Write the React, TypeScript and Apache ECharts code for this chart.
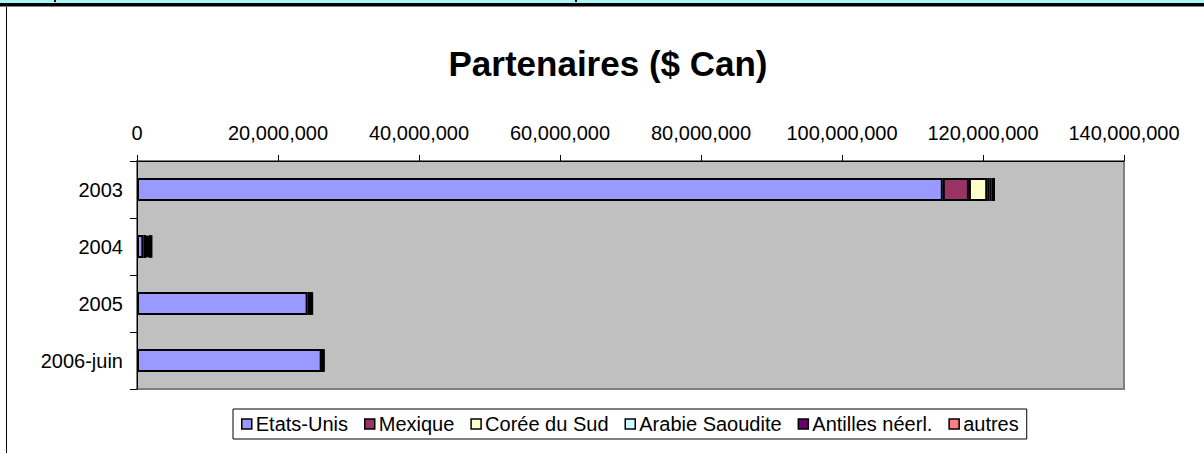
import React, { useEffect, useRef } from "react";
import * as echarts from "echarts";

const categories = ["2003", "2004", "2005", "2006-juin"];
const seriesNames = ["Etats-Unis", "Mexique", "Corée du Sud", "Arabie Saoudite", "Antilles néerl.", "autres"];
const etatsUnis = [114.3e6, 0.9e6, 24.2e6, 26.2e6];
const mexique = [3.7e6, 0.4e6, 0.3e6, 0.1e6];
const coreeDuSud = [2.6e6, 0.2e6, 0.1e6, 0.05e6];
const arabieSaoudite = [0.3e6, 0.2e6, 0.1e6, 0.05e6];
const antilles = [0.3e6, 0.3e6, 0.1e6, 0.05e6];
const autres = [0.5e6, 0.1e6, 0.1e6, 0.1e6];
const seriesValues = [etatsUnis, mexique, coreeDuSud, arabieSaoudite, antilles, autres];
const seriesColors = ["#9999FF", "#993366", "#FFFFCC", "#CCFFFF", "#660066", "#FF8080"];
const tickMin = 0;
const tickMax = 140e6;
const tickStep = 20e6;

const FONT = "Liberation Sans, Arial, sans-serif";

export default function App() {
  const ref = useRef<HTMLDivElement>(null);
  useEffect(() => {
    document.body.style.margin = "0";
    if (!ref.current) return;
    const chart = echarts.init(ref.current, null, { renderer: "svg" });
    chart.setOption({
      animation: false,
      backgroundColor: "#ffffff",
      title: {
        text: "Partenaires ($ Can)",
        left: 603,
        textAlign: "center",
        top: 41,
        textStyle: { fontFamily: FONT, fontSize: 35, fontWeight: "bold", color: "#000" },
      },
      grid: {
        left: 137,
        top: 161,
        width: 987,
        height: 228,
        show: true,
        backgroundColor: "#c0c0c0",
        borderColor: "#808080",
        borderWidth: 2,
      },
      xAxis: {
        type: "value",
        position: "top",
        min: tickMin,
        max: tickMax,
        interval: tickStep,
        axisLine: { show: true, lineStyle: { color: "#000", width: 1 } },
        axisTick: { show: true, length: 6, lineStyle: { color: "#000" } },
        splitLine: { show: false },
        axisLabel: {
          margin: 18,
          color: "#000",
          fontFamily: FONT,
          fontSize: 20,
          formatter: (v: number) => v.toLocaleString("en-US"),
        },
      },
      yAxis: {
        type: "category",
        inverse: true,
        data: categories,
        axisLine: { show: true, lineStyle: { color: "#000", width: 1 } },
        axisTick: { show: true, length: 7, lineStyle: { color: "#000" } },
        axisLabel: { margin: 14, color: "#000", fontFamily: FONT, fontSize: 20 },
      },
      legend: {
        data: seriesNames,
        left: 233,
        top: 409,
        icon: "rect",
        itemWidth: 10,
        itemHeight: 10,
        itemGap: 16,
        padding: [5, 8],
        borderColor: "#000",
        borderWidth: 1,
        backgroundColor: "#fff",
        itemStyle: { borderColor: "#000", borderWidth: 1.5 },
        textStyle: { fontFamily: FONT, fontSize: 20, color: "#000", padding: [0, 0, 0, -1] },
      },
      series: seriesNames.map((name, i) => ({
        name,
        type: "bar",
        stack: "total",
        barWidth: 23,
        data: seriesValues[i],
        itemStyle: { color: seriesColors[i], borderColor: "#000", borderWidth: 2 },
      })),
      graphic: [
        { type: "rect", left: 0, top: 0, shape: { width: 1204, height: 3 }, style: { fill: "#a8f6f6" } },
        { type: "rect", left: 0, top: 3, shape: { width: 1204, height: 3 }, style: { fill: "#000" } },
        { type: "rect", left: 0, top: 6, shape: { width: 1204, height: 1 }, style: { fill: "#808080" } },
        { type: "rect", left: 6, top: 7, shape: { width: 1, height: 446 }, style: { fill: "#000" } },
        { type: "rect", left: 54, top: 0, shape: { width: 2, height: 2 }, style: { fill: "#000" } },
        { type: "rect", left: 575, top: 0, shape: { width: 2, height: 2 }, style: { fill: "#000" } },
      ],
    });
    return () => chart.dispose();
  }, []);
  return <div ref={ref} style={{ width: 1204, height: 453 }} />;
}
